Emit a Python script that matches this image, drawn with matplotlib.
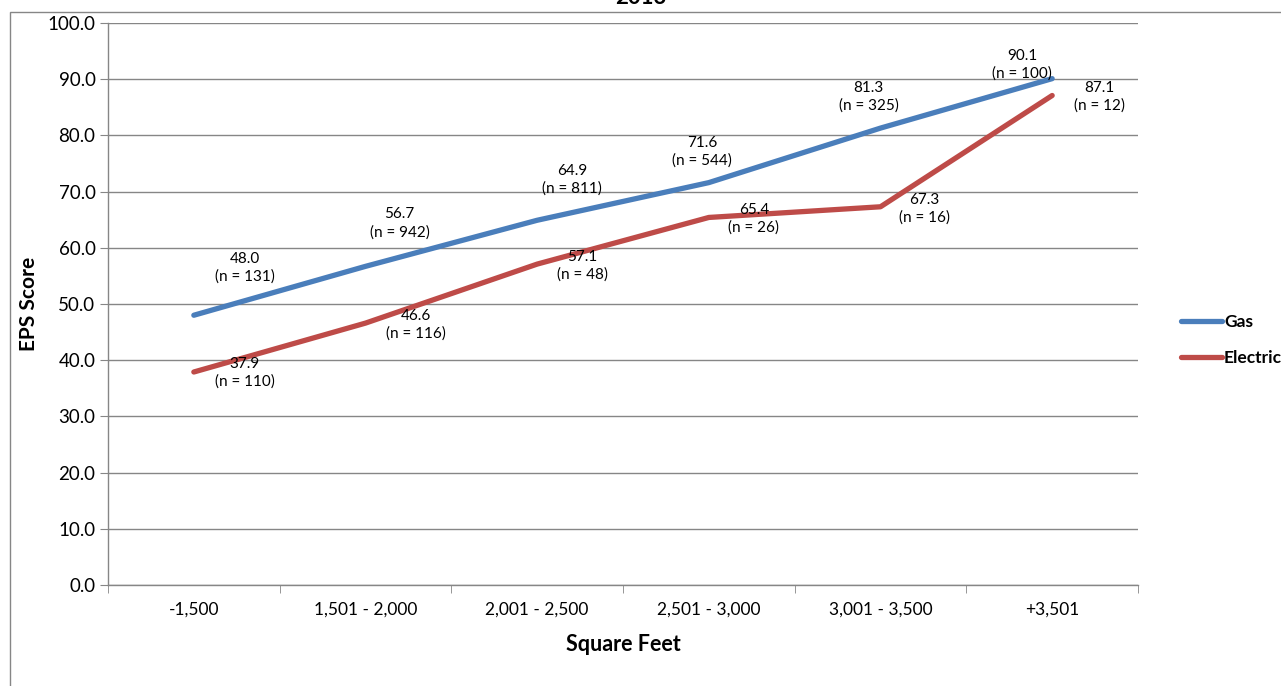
import matplotlib
matplotlib.use("Agg")
import matplotlib.pyplot as plt
from matplotlib.patches import Rectangle

plt.rcParams['font.family'] = ['Lato', 'DejaVu Sans']

# Data
categories = ["-1,500", "1,501 - 2,000", "2,001 - 2,500", "2,501 - 3,000", "3,001 - 3,500", "+3,501"]
gas_scores = [48.0, 56.7, 64.9, 71.6, 81.3, 90.1]
gas_counts = [131, 942, 811, 544, 325, 100]
electric_scores = [37.9, 46.6, 57.1, 65.4, 67.3, 87.1]
electric_counts = [110, 116, 48, 26, 16, 12]
y_ticks = [0, 10, 20, 30, 40, 50, 60, 70, 80, 90, 100]

# Label offsets (pixels) for each data label block
gas_offsets = [(51, 47), (34, 43), (35, 40), (-7, 31), (-12, 31), (-30, 14)]
electric_offsets = [(51, -1), (50, -2), (45, -2), (45, -1), (44, -2), (47, -1)]

GAS = "#4A7EBB"
ELEC = "#BE4B48"
GRID = "#868686"

W, H = 1281, 686
fig = plt.figure(figsize=(W / 100, H / 100), dpi=100)

# chart-area frame
fig.patches.append(Rectangle((10 / W, -0.1), 1.2, 1 - 12 / H + 0.1, transform=fig.transFigure,
                             fill=False, edgecolor=GRID, linewidth=1.0))

ax = fig.add_axes([108 / W, (H - 585) / H, (1138 - 108) / W, (585 - 23) / H])
x = list(range(len(categories)))

ax.set_xlim(-0.5, len(categories) - 0.5)
ax.set_ylim(0, 100)
ax.set_yticks(y_ticks)
ax.set_yticklabels([f"{v:.1f}" for v in y_ticks], fontsize=13.5)
ax.yaxis.grid(True, color=GRID, linewidth=1.0)
ax.set_axisbelow(True)

ax.set_xticks(x)
ax.set_xticklabels(categories, fontsize=12.5)
ax.set_xticks([i - 0.5 for i in range(len(categories) + 1)], minor=True)
ax.tick_params(axis='x', which='major', length=0, pad=12)
ax.tick_params(axis='x', which='minor', length=6, color=GRID, direction='out')
ax.tick_params(axis='y', length=6, color=GRID, direction='out', pad=3)

for s in ['top', 'right']:
    ax.spines[s].set_visible(False)
for s in ['left', 'bottom']:
    ax.spines[s].set_color(GRID)
    ax.spines[s].set_linewidth(1.0)

ax.plot(x, gas_scores, color=GAS, linewidth=3.8, solid_capstyle='round',
        solid_joinstyle='round', label="Gas", zorder=3)
ax.plot(x, electric_scores, color=ELEC, linewidth=3.8, solid_capstyle='round',
        solid_joinstyle='round', label="Electric", zorder=3)

for xi, v, n, off in zip(x, gas_scores, gas_counts, gas_offsets):
    ax.annotate(f"{v:.1f}\n(n = {n})", (xi, v), xytext=off, textcoords='offset pixels',
                ha='center', va='center', fontsize=11, linespacing=1.3, zorder=4)
for xi, v, n, off in zip(x, electric_scores, electric_counts, electric_offsets):
    ax.annotate(f"{v:.1f}\n(n = {n})", (xi, v), xytext=off, textcoords='offset pixels',
                ha='center', va='center', fontsize=11, linespacing=1.3, zorder=4)

ax.set_ylabel("EPS Score", fontsize=15, fontweight='bold', labelpad=6)
ax.set_xlabel("Square Feet", fontsize=15.5, fontweight='bold', labelpad=12)

leg = fig.legend(loc='center left', bbox_to_anchor=(1165 / W, 1 - 340 / H), frameon=False,
                 handlelength=2.4, handletextpad=0.1, labelspacing=1.2,
                 prop={'weight': 'bold', 'size': 12.5})

fig.text(0.5, 1 - 4 / H, "2013", ha='center', va='baseline', fontsize=16, fontweight='bold')

fig.savefig("out.png", dpi=100)
